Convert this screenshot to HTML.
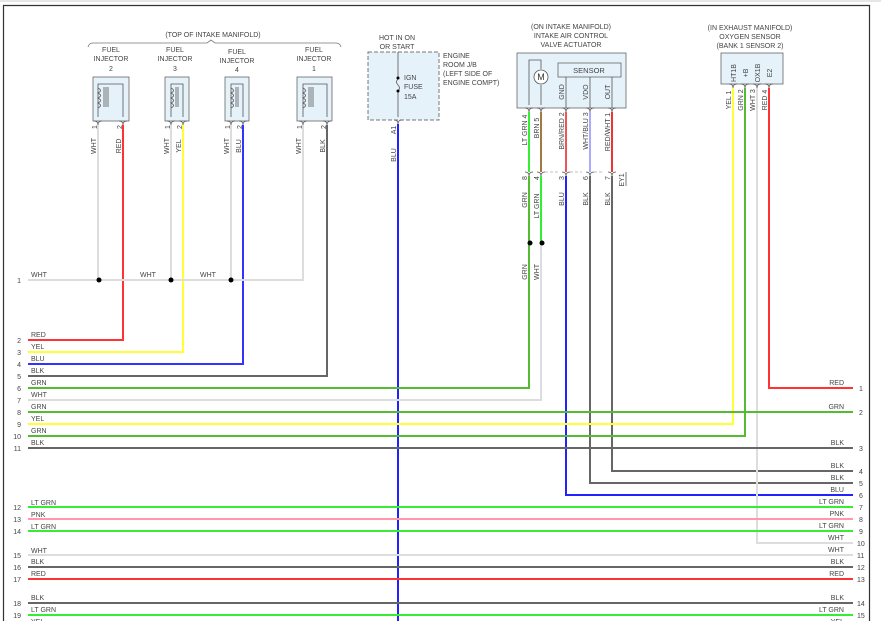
<!DOCTYPE html>
<html><head><meta charset="utf-8"><style>
html,body{margin:0;padding:0;background:#fff;}
svg{display:block;font-family:"Liberation Sans",sans-serif;}
text{font-size:7px;fill:#444;}
</style></head><body>
<svg width="881" height="621" viewBox="0 0 881 621" xmlns="http://www.w3.org/2000/svg">
<line x1="0" y1="1" x2="881" y2="1" stroke="#ccc" stroke-width="1"/>
<path d="M3.5 621 V5.5 H869.5 V621" fill="none" stroke="#333" stroke-width="1.2"/>

<text x="213" y="37" text-anchor="middle">(TOP OF INTAKE MANIFOLD)</text>
<path d="M88 47 Q89 43 93 43 H207 L211 40 L215 43 H336 Q340 43 341 47" fill="none" stroke="#777" stroke-width="0.8"/>

<g text-anchor="middle">
<text x="111" y="52">FUEL</text><text x="111" y="61">INJECTOR</text><text x="111" y="71">2</text>
<text x="175" y="52">FUEL</text><text x="175" y="61">INJECTOR</text><text x="175" y="71">3</text>
<text x="237" y="54">FUEL</text><text x="237" y="63">INJECTOR</text><text x="237" y="72">4</text>
<text x="314" y="52">FUEL</text><text x="314" y="61">INJECTOR</text><text x="314" y="71">1</text>
</g>

<g fill="#e6f2fa" stroke="#666" stroke-width="0.8">
<rect x="93" y="77" width="36" height="44"/>
<rect x="165" y="77" width="24" height="44"/>
<rect x="225" y="77" width="24" height="44"/>
<rect x="297" y="77" width="35" height="44"/>
</g>
<g fill="none" stroke="#555" stroke-width="0.8">
<path d="M98 117 V84 H123 V117"/><path d="M98 88 q5 2.5 0 5 q5 2.5 0 5 q5 2.5 0 5 q5 2.5 0 5"/><path d="M104 87 V107 M106 87 V107 M108 87 V107"/>
<path d="M171 117 V84 H183 V117"/><path d="M171 88 q5 2.5 0 5 q5 2.5 0 5 q5 2.5 0 5 q5 2.5 0 5"/><path d="M176 87 V107 M178 87 V107"/>
<path d="M231 117 V84 H243 V117"/><path d="M231 88 q5 2.5 0 5 q5 2.5 0 5 q5 2.5 0 5 q5 2.5 0 5"/><path d="M236 87 V107 M238 87 V107"/>
<path d="M303 117 V84 H327 V117"/><path d="M303 88 q5 2.5 0 5 q5 2.5 0 5 q5 2.5 0 5 q5 2.5 0 5"/><path d="M309 87 V107 M311 87 V107 M313 87 V107"/>
</g>
<g fill="none" stroke="#555" stroke-width="0.8">
<path d="M94 121 q4 0 4 4 q0 -4 4 -4 M119 121 q4 0 4 4 q0 -4 4 -4"/>
<path d="M167 121 q4 0 4 4 q0 -4 4 -4 M179 121 q4 0 4 4 q0 -4 4 -4"/>
<path d="M227 121 q4 0 4 4 q0 -4 4 -4 M239 121 q4 0 4 4 q0 -4 4 -4"/>
<path d="M299 121 q4 0 4 4 q0 -4 4 -4 M323 121 q4 0 4 4 q0 -4 4 -4"/>
</g>

<g fill="none" stroke-width="2">
<path d="M98 125 V280" stroke="#ddd"/>
<path d="M123 125 V340 H28" stroke="#f33"/>
<path d="M171 125 V280" stroke="#ddd"/>
<path d="M183 125 V352 H28" stroke="#ff3"/>
<path d="M231 125 V280" stroke="#ddd"/>
<path d="M243 125 V364 H28" stroke="#33f"/>
<path d="M303 125 V280 H28" stroke="#ddd"/>
<path d="M327 125 V376 H28" stroke="#666"/>
</g>
<g fill="#000"><circle cx="99" cy="280" r="2.5"/><circle cx="171" cy="280" r="2.5"/><circle cx="231" cy="280" r="2.5"/></g>
<g text-anchor="middle">
<text transform="translate(97,127) rotate(-90)">1</text><text transform="translate(122,127) rotate(-90)">2</text>
<text transform="translate(170,127) rotate(-90)">1</text><text transform="translate(182,127) rotate(-90)">2</text>
<text transform="translate(230,127) rotate(-90)">1</text><text transform="translate(242,127) rotate(-90)">2</text>
<text transform="translate(302,127) rotate(-90)">1</text><text transform="translate(326,127) rotate(-90)">2</text>
<text transform="translate(96,146) rotate(-90)">WHT</text><text transform="translate(121,146) rotate(-90)">RED</text>
<text transform="translate(169,146) rotate(-90)">WHT</text><text transform="translate(181,146) rotate(-90)">YEL</text>
<text transform="translate(229,146) rotate(-90)">WHT</text><text transform="translate(241,146) rotate(-90)">BLU</text>
<text transform="translate(301,146) rotate(-90)">WHT</text><text transform="translate(325,146) rotate(-90)">BLK</text>
</g>
<text x="140" y="277">WHT</text><text x="200" y="277">WHT</text>

<text x="397" y="40" text-anchor="middle">HOT IN ON</text>
<text x="397" y="49" text-anchor="middle">OR START</text>
<rect x="368" y="52" width="71" height="68" fill="#e6f2fa" stroke="#777" stroke-width="1" stroke-dasharray="4,2"/>
<path d="M398 52 V77 M398 91 V117" stroke="#555" stroke-width="0.8" fill="none"/>
<path d="M398 79 q-3 3 0 6 q3 3 0 6" stroke="#555" stroke-width="0.8" fill="none"/>
<circle cx="398" cy="78" r="1.5" fill="#000"/><circle cx="398" cy="91" r="1.5" fill="#000"/>
<text x="404" y="80">IGN</text><text x="404" y="89">FUSE</text><text x="404" y="99">15A</text>
<text x="443" y="58">ENGINE</text><text x="443" y="67">ROOM J/B</text><text x="443" y="76">(LEFT SIDE OF</text><text x="443" y="85">ENGINE COMPT)</text>
<path d="M394 120 q4 0 4 4 q0 -4 4 -4" fill="none" stroke="#555" stroke-width="0.8"/>
<path d="M398 124 V621" stroke="#22f" stroke-width="2"/>
<text transform="translate(396,130) rotate(-90)" text-anchor="middle">A1</text>
<text transform="translate(396,155) rotate(-90)" text-anchor="middle">BLU</text>

<g text-anchor="middle">
<text x="571" y="29">(ON INTAKE MANIFOLD)</text>
<text x="571" y="38">INTAKE AIR CONTROL</text>
<text x="571" y="47">VALVE ACTUATOR</text>
</g>
<rect x="517" y="53" width="109" height="55" fill="#e6f2fa" stroke="#666" stroke-width="0.8"/>
<rect x="558" y="63" width="63" height="14" fill="#e6f2fa" stroke="#666" stroke-width="0.8"/>
<text x="589" y="73" text-anchor="middle" style="font-size:7.5px">SENSOR</text>
<g fill="none" stroke="#555" stroke-width="0.8">
<path d="M529 105 V60 H541 V69 M541 85 V105"/>
<circle cx="541" cy="77" r="7" fill="#fff"/>
<path d="M566 77 V108 M590 77 V108 M612 77 V108"/>
<path d="M525 108 q4 0 4 4 q0 -4 4 -4 M537 108 q4 0 4 4 q0 -4 4 -4 M562 108 q4 0 4 4 q0 -4 4 -4 M586 108 q4 0 4 4 q0 -4 4 -4 M608 108 q4 0 4 4 q0 -4 4 -4"/>
<path d="M525 172 q4 0 4 4 q0 -4 4 -4 M537 172 q4 0 4 4 q0 -4 4 -4 M562 172 q4 0 4 4 q0 -4 4 -4 M586 172 q4 0 4 4 q0 -4 4 -4 M608 172 q4 0 4 4 q0 -4 4 -4"/>
<path d="M545 172 H558 M570 172 H582 M594 172 H604" stroke="#aaa" stroke-dasharray="3,2"/>
<path d="M626 172 V186"/>
</g>
<text x="541" y="80" text-anchor="middle" style="font-size:9px;fill:#333">M</text>
<g text-anchor="middle">
<text transform="translate(564,92) rotate(-90)">GND</text>
<text transform="translate(588,92) rotate(-90)">VDO</text>
<text transform="translate(610,92) rotate(-90)">OUT</text>
<text transform="translate(527,130) rotate(-90)">LT GRN 4</text>
<text transform="translate(539,128) rotate(-90)">BRN 5</text>
<text transform="translate(564,131) rotate(-90)">BRN/RED 2</text>
<text transform="translate(588,131) rotate(-90)">WHT/BLU 3</text>
<text transform="translate(610,132) rotate(-90)">RED/WHT 1</text>
<text transform="translate(527,178) rotate(-90)">8</text>
<text transform="translate(539,178) rotate(-90)">4</text>
<text transform="translate(564,178) rotate(-90)">3</text>
<text transform="translate(588,178) rotate(-90)">6</text>
<text transform="translate(610,178) rotate(-90)">7</text>
<text transform="translate(624,180) rotate(-90)">EY1</text>
<text transform="translate(527,200) rotate(-90)">GRN</text>
<text transform="translate(539,206) rotate(-90)">LT GRN</text>
<text transform="translate(564,199) rotate(-90)">BLU</text>
<text transform="translate(588,199) rotate(-90)">BLK</text>
<text transform="translate(610,199) rotate(-90)">BLK</text>
<text transform="translate(527,272) rotate(-90)">GRN</text>
<text transform="translate(539,272) rotate(-90)">WHT</text>
</g>
<g fill="none" stroke-width="2">
<path d="M529 112 V172" stroke="#3e3"/>
<path d="M541 112 V172" stroke="#a07a40"/>
<path d="M566 112 V172" stroke="#e55"/>
<path d="M590 112 V172" stroke="#aaf"/>
<path d="M612 112 V172" stroke="#e33"/>
<path d="M529 176 V388 H28" stroke="#5b3"/>
<path d="M541 176 V243" stroke="#3e3"/>
<path d="M541 243 V400 H28" stroke="#ddd"/>
<path d="M566 176 V495 H853" stroke="#22f"/>
<path d="M590 176 V483 H853" stroke="#666"/>
<path d="M612 176 V471 H853" stroke="#666"/>
</g>
<circle cx="530" cy="243" r="2.5" fill="#000"/><circle cx="542" cy="243" r="2.5" fill="#000"/>

<g text-anchor="middle">
<text x="750" y="30">(IN EXHAUST MANIFOLD)</text>
<text x="750" y="39">OXYGEN SENSOR</text>
<text x="750" y="48">(BANK 1 SENSOR 2)</text>
</g>
<rect x="721" y="53" width="62" height="31" fill="#e6f2fa" stroke="#666" stroke-width="0.8"/>
<g fill="none" stroke="#555" stroke-width="0.8">
<path d="M729 84 q4 0 4 4 q0 -4 4 -4 M741 84 q4 0 4 4 q0 -4 4 -4 M753 84 q4 0 4 4 q0 -4 4 -4 M765 84 q4 0 4 4 q0 -4 4 -4"/>
</g>
<g text-anchor="middle">
<text transform="translate(736,73) rotate(-90)">HT1B</text>
<text transform="translate(748,73) rotate(-90)">+B</text>
<text transform="translate(760,73) rotate(-90)">OX1B</text>
<text transform="translate(772,73) rotate(-90)">E2</text>
<text transform="translate(731,100) rotate(-90)">YEL 1</text>
<text transform="translate(743,100) rotate(-90)">GRN 2</text>
<text transform="translate(755,100) rotate(-90)">WHT 3</text>
<text transform="translate(767,100) rotate(-90)">RED 4</text>
</g>
<g fill="none" stroke-width="2">
<path d="M733 88 V424 H28" stroke="#ff3"/>
<path d="M745 88 V436 H28" stroke="#5b3"/>
<path d="M757 88 V543 H853" stroke="#ddd"/>
<path d="M769 88 V388 H853" stroke="#f33"/>
</g>

<g stroke-width="2">
<line x1="28" y1="412" x2="853" y2="412" stroke="#5b3"/>
<line x1="28" y1="448" x2="853" y2="448" stroke="#666"/>
<line x1="28" y1="507" x2="853" y2="507" stroke="#3e3"/>
<line x1="28" y1="519" x2="853" y2="519" stroke="#f9a"/>
<line x1="28" y1="531" x2="853" y2="531" stroke="#3e3"/>
<line x1="28" y1="555" x2="853" y2="555" stroke="#ddd"/>
<line x1="28" y1="567" x2="853" y2="567" stroke="#666"/>
<line x1="28" y1="579" x2="853" y2="579" stroke="#f33"/>
<line x1="28" y1="603" x2="853" y2="603" stroke="#666"/>
<line x1="28" y1="615" x2="853" y2="615" stroke="#3e3"/>
</g>

<g>
<text x="31" y="277">WHT</text>
<text x="31" y="337">RED</text><text x="31" y="349">YEL</text><text x="31" y="361">BLU</text>
<text x="31" y="373">BLK</text><text x="31" y="385">GRN</text><text x="31" y="397">WHT</text>
<text x="31" y="409">GRN</text><text x="31" y="421">YEL</text><text x="31" y="433">GRN</text>
<text x="31" y="445">BLK</text>
<text x="31" y="505">LT GRN</text><text x="31" y="517">PNK</text><text x="31" y="529">LT GRN</text>
<text x="31" y="553">WHT</text><text x="31" y="564">BLK</text><text x="31" y="576">RED</text>
<text x="31" y="600">BLK</text><text x="31" y="612">LT GRN</text><text x="31" y="624">YEL</text>
</g>
<g text-anchor="end">
<text x="21" y="283">1</text>
<text x="21" y="343">2</text><text x="21" y="355">3</text><text x="21" y="367">4</text>
<text x="21" y="379">5</text><text x="21" y="391">6</text><text x="21" y="403">7</text>
<text x="21" y="415">8</text><text x="21" y="427">9</text><text x="21" y="439">10</text>
<text x="21" y="451">11</text>
<text x="21" y="510">12</text><text x="21" y="522">13</text><text x="21" y="534">14</text>
<text x="21" y="558">15</text><text x="21" y="570">16</text><text x="21" y="582">17</text>
<text x="21" y="606">18</text><text x="21" y="618">19</text>
</g>
<g text-anchor="end">
<text x="844" y="385">RED</text><text x="844" y="409">GRN</text><text x="844" y="445">BLK</text>
<text x="844" y="468">BLK</text><text x="844" y="480">BLK</text><text x="844" y="492">BLU</text>
<text x="844" y="504">LT GRN</text><text x="844" y="516">PNK</text><text x="844" y="528">LT GRN</text>
<text x="844" y="540">WHT</text><text x="844" y="552">WHT</text><text x="844" y="564">BLK</text>
<text x="844" y="576">RED</text><text x="844" y="600">BLK</text><text x="844" y="612">LT GRN</text>
<text x="844" y="624">YEL</text>
</g>
<g>
<text x="859" y="391">1</text><text x="859" y="415">2</text><text x="859" y="451">3</text>
<text x="859" y="474">4</text><text x="859" y="486">5</text><text x="859" y="498">6</text>
<text x="859" y="510">7</text><text x="859" y="522">8</text><text x="859" y="534">9</text>
<text x="857" y="546">10</text><text x="857" y="558">11</text><text x="857" y="570">12</text>
<text x="857" y="582">13</text><text x="857" y="606">14</text><text x="857" y="618">15</text>
</g>
</svg>
</body></html>
